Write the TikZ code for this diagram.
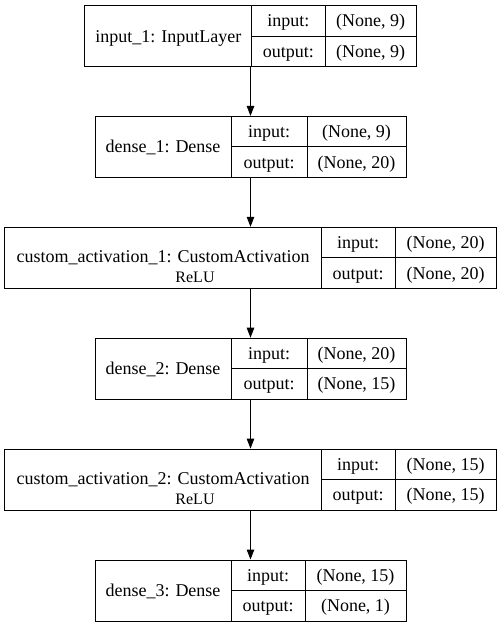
\documentclass[tikz,border=0pt]{standalone}
\usepackage{fontspec}
\setmainfont{Liberation Serif}
\usetikzlibrary{arrows.meta}

\begin{document}
\begin{tikzpicture}[x=1pt,y=-1pt,
	layer/.style={draw,line width=1pt,inner sep=0pt,minimum height=61pt},
	txt/.style={inner sep=0pt,text height=12pt,text depth=0pt,font=\fontsize{18}{21}\selectfont},
	small/.style={inner sep=0pt,anchor=base,font=\fontsize{16}{19}\selectfont},
	flow/.style={line width=1pt,-{Triangle[length=10pt,width=7.5pt]}}]
			\useasboundingbox (0,0) rectangle (501,627);
			% input layer
			\node[layer,minimum width=331.3pt] (input1) at (250.5,36) {};
			\draw[line width=1pt] (251.7,5.5) -- (251.7,66.5);
			\draw[line width=1pt] (325,5.5) -- (325,66.5);
			\draw[line width=1pt] (251.7,36) -- (416.15,36);
			\node[txt] (input1name) at (168.3,36) {input\_1: InputLayer};
			\node[txt] (input1in) at (288.4,20.75) {input:};
			\node[txt] (input1out) at (288.4,51.25) {output:};
			\node[txt] (input1inval) at (370.6,20.75) {(None, 9)};
			\node[txt] (input1outval) at (370.6,51.25) {(None, 9)};
			% dense 1
			\node[layer,minimum width=311pt] (dense1) at (250.5,146.9) {};
			\draw[line width=1pt] (231,116.4) -- (231,177.4);
			\draw[line width=1pt] (307,116.4) -- (307,177.4);
			\draw[line width=1pt] (231,146.9) -- (406,146.9);
			\node[txt] (dense1name) at (163,146.9) {dense\_1: Dense};
			\node[txt] (dense1in) at (269,131.65) {input:};
			\node[txt] (dense1out) at (269,162.15) {output:};
			\node[txt] (dense1inval) at (356.5,131.65) {(None, 9)};
			\node[txt] (dense1outval) at (356.5,162.15) {(None, 20)};
			% custom activation 1
			\node[layer,minimum width=492pt] (act1) at (250.5,257.8) {};
			\draw[line width=1pt] (321.3,227.3) -- (321.3,288.3);
			\draw[line width=1pt] (395,227.3) -- (395,288.3);
			\draw[line width=1pt] (321.3,257.8) -- (496.5,257.8);
			\node[txt] (act1name) at (163,256.5) {custom\_activation\_1: CustomActivation};
			\node[small] (act1fn) at (195,282.5) {ReLU};
			\node[txt] (act1in) at (358.2,242.55) {input:};
			\node[txt] (act1out) at (358.2,273.05) {output:};
			\node[txt] (act1inval) at (445.7,242.55) {(None, 20)};
			\node[txt] (act1outval) at (445.7,273.05) {(None, 20)};
			% dense 2
			\node[layer,minimum width=311pt] (dense2) at (250.5,368.7) {};
			\draw[line width=1pt] (231,338.2) -- (231,399.2);
			\draw[line width=1pt] (307,338.2) -- (307,399.2);
			\draw[line width=1pt] (231,368.7) -- (406,368.7);
			\node[txt] (dense2name) at (163,368.7) {dense\_2: Dense};
			\node[txt] (dense2in) at (269,353.45) {input:};
			\node[txt] (dense2out) at (269,383.95) {output:};
			\node[txt] (dense2inval) at (356.5,353.45) {(None, 20)};
			\node[txt] (dense2outval) at (356.5,383.95) {(None, 15)};
			% custom activation 2
			\node[layer,minimum width=492pt] (act2) at (250.5,479.6) {};
			\draw[line width=1pt] (321.3,449.1) -- (321.3,510.1);
			\draw[line width=1pt] (395,449.1) -- (395,510.1);
			\draw[line width=1pt] (321.3,479.6) -- (496.5,479.6);
			\node[txt] (act2name) at (163,478.3) {custom\_activation\_2: CustomActivation};
			\node[small] (act2fn) at (195,504.3) {ReLU};
			\node[txt] (act2in) at (358.2,464.35) {input:};
			\node[txt] (act2out) at (358.2,494.85) {output:};
			\node[txt] (act2inval) at (445.7,464.35) {(None, 15)};
			\node[txt] (act2outval) at (445.7,494.85) {(None, 15)};
			% dense 3
			\node[layer,minimum width=311pt] (dense3) at (250.5,590.5) {};
			\draw[line width=1pt] (231,560) -- (231,621);
			\draw[line width=1pt] (305,560) -- (305,621);
			\draw[line width=1pt] (231,590.5) -- (406,590.5);
			\node[txt] (dense3name) at (163,590.5) {dense\_3: Dense};
			\node[txt] (dense3in) at (268,575.25) {input:};
			\node[txt] (dense3out) at (268,605.75) {output:};
			\node[txt] (dense3inval) at (355.5,575.25) {(None, 15)};
			\node[txt] (dense3outval) at (355.5,605.75) {(None, 1)};
			% connections
			\draw[flow] (input1) -- (dense1);
			\draw[flow] (dense1) -- (act1);
			\draw[flow] (act1) -- (dense2);
			\draw[flow] (dense2) -- (act2);
			\draw[flow] (act2) -- (dense3);
\end{tikzpicture}
\end{document}
